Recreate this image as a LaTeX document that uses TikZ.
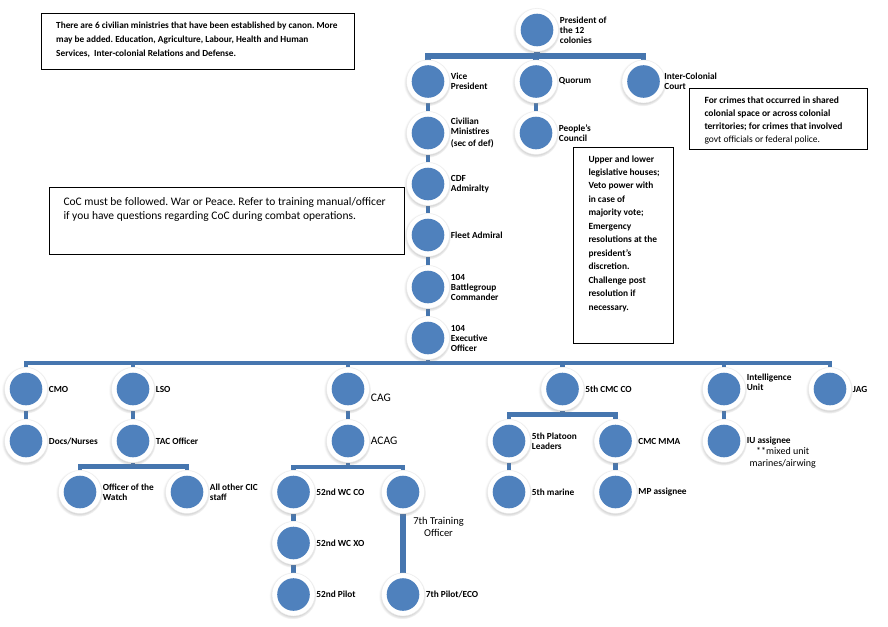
\documentclass[tikz,border=0pt]{standalone}
\usepackage{fontspec}
\setmainfont{Carlito}
\frenchspacing
\usetikzlibrary{shadows,backgrounds}
\definecolor{orgblue}{RGB}{79,129,189}
\definecolor{barblue}{RGB}{70,118,175}

\begin{document}
\begin{tikzpicture}[x=1pt,y=-1pt,
  ring/.style={circle, fill=white, minimum size=43pt, inner sep=0pt, draw=black!8, line width=0.4pt,
    circular drop shadow={shadow xshift=-0.6pt, shadow yshift=-1pt, shadow scale=1.1, opacity=0.35},
    path picture={\fill[orgblue] (path picture bounding box.center) circle[radius=16.3pt];}},
  lbl/.style={anchor=west, inner sep=0pt, xshift=1pt, align=left,
    font=\fontsize{9.3}{10}\selectfont\bfseries},
  plainlbl/.style={inner sep=0pt, align=center, font=\fontsize{10.5}{11.7}\selectfont},
  bar/.style={draw=barblue, line width=4.5pt},
  topbar/.style={draw=barblue, line width=5.5pt},
  noteframe/.style={draw=black, line width=0.9pt, anchor=north west, inner sep=0pt, fill=white},
  notetext/.style={anchor=north west, inner sep=0pt, align=left},
]
\path[use as bounding box] (0,0) rectangle (888,626);

% --- government ---
\node[ring] (pres)    at (537,30) {};
\node[ring] (vp)      at (428,81.5) {};
\node[ring] (quorum)  at (536,81.5) {};
\node[ring] (court)   at (643.5,81.5) {};
\node[ring] (civ)     at (428,133) {};
\node[ring] (council) at (536,133) {};
% --- military chain ---
\node[ring] (cdf)   at (428,184) {};
\node[ring] (fleet) at (428,235) {};
\node[ring] (bgc)   at (428,287) {};
\node[ring] (xo)    at (428,338) {};
% --- departments ---
\node[ring] (cmo)  at (26,389) {};
\node[ring] (lso)  at (133,389) {};
\node[ring] (cag)  at (348,389) {};
\node[ring] (cmc)  at (562.5,389) {};
\node[ring] (iu)   at (724,389) {};
\node[ring] (jag)  at (830,389) {};
\node[ring] (docs) at (26,441) {};
\node[ring] (tac)  at (133,441) {};
\node[ring] (acag) at (348,441) {};
\node[ring] (plat) at (509,441) {};
\node[ring] (mma)  at (615.5,441) {};
\node[ring] (iua)  at (724,441) {};
\node[ring] (ootw)   at (80,492) {};
\node[ring] (cic)    at (187,492) {};
\node[ring] (wcco)   at (293.5,492) {};
\node[ring] (train)  at (403,492) {};
\node[ring] (marine) at (509,492) {};
\node[ring] (mp)     at (615.5,492) {};
\node[ring] (wcxo)   at (293.5,543) {};
\node[ring] (pilot)  at (293.5,594.5) {};
\node[ring] (eco)    at (403,594.5) {};

% bus rails
\coordinate (topbus)  at (537,56);
\coordinate (mainbus) at (428,363);
\coordinate (tacbus)  at (133,466.5);
\coordinate (acagbus) at (348,467);
\coordinate (cmcbus)  at (562.5,414.5);

\begin{pgfonlayer}{background}
  \fill[white] (0,0) rectangle (888,626);
  \draw[topbar] (vp) -- (vp |- topbus) -| (court);
  \draw[topbar] (pres) -- (topbus);
  \draw[topbar] (quorum) -- (quorum |- topbus);
  \draw[bar] (quorum) -- (council);
  \draw[bar] (vp) -- (civ) -- (cdf) -- (fleet) -- (bgc) -- (xo) -- (mainbus);
  \draw[bar] (cmo) -- (cmo |- mainbus) -| (jag);
  \draw[bar] (lso) -- (lso |- mainbus);
  \draw[bar] (cag) -- (cag |- mainbus);
  \draw[bar] (cmc) -- (cmc |- mainbus);
  \draw[bar] (iu) -- (iu |- mainbus);
  \draw[bar] (cmo) -- (docs);
  \draw[bar] (lso) -- (tac) -- (tacbus);
  \draw[bar] (ootw) -- (ootw |- tacbus) -| (cic);
  \draw[bar] (cag) -- (acag) -- (acagbus);
  \draw[bar] (wcco) -- (wcco |- acagbus) -| (train);
  \draw[bar] (wcco) -- (wcxo) -- (pilot);
  \draw[draw=barblue, line width=6pt] (train) -- (eco);
  \draw[bar] (cmc) -- (cmcbus);
  \draw[bar] (plat) -- (plat |- cmcbus) -| (mma);
  \draw[bar] (plat) -- (marine);
  \draw[bar] (mma) -- (mp);
  \draw[bar] (iu) -- (iua);
\end{pgfonlayer}

% labels
\node[lbl] (presL)    at (pres.east) {President of\\the 12\\colonies};
\node[lbl] (vpL)      at (vp.east) {Vice\\President};
\node[lbl] (quorumL)  at (quorum.east) {Quorum};
\node[lbl, xshift=-2pt] (courtL) at (court.east) {Inter-Colonial\\Court};
\node[lbl] (civL)     at (civ.east) {Civilian\\Ministires\\[2pt](sec of def)};
\node[lbl] (councilL) at (council.east) {People's\\Council};
\node[lbl] (cdfL)     at (cdf.east) {CDF\\Admiralty};
\node[lbl] (fleetL)   at (fleet.east) {Fleet Admiral};
\node[lbl] (bgcL)     at (bgc.east) {104\\Battlegroup\\Commander};
\node[lbl] (xoL)      at (xo.east) {104\\Executive\\Officer};
\node[lbl] (cmoL)     at (cmo.east) {CMO};
\node[lbl] (lsoL)     at (lso.east) {LSO};
\node[lbl, font=\fontsize{11.5}{13}\selectfont, yshift=-9pt] (cagL) at (cag.east) {CAG};
\node[lbl, font=\fontsize{11.5}{13}\selectfont] (acagL) at (acag.east) {ACAG};
\node[lbl] (cmcL)     at (cmc.east) {5th CMC CO};
\node[lbl, yshift=7pt] (iuL) at (iu.east) {Intelligence\\Unit};
\node[lbl] (jagL)     at (jag.east) {JAG};
\node[lbl] (docsL)    at (docs.east) {Docs/Nurses};
\node[lbl] (tacL)     at (tac.east) {TAC Officer};
\node[lbl] (platL)    at (plat.east) {5th Platoon\\Leaders};
\node[lbl] (mmaL)     at (mma.east) {CMC MMA};
\node[lbl] (iuaL)     at (iua.east) {IU assignee};
\node[plainlbl, anchor=west, font=\fontsize{10}{12.3}\selectfont] (iuaNote) at (749.3,457.9) {**mixed unit\\marines/airwing};
\node[lbl] (ootwL)    at (ootw.east) {Officer of the\\Watch};
\node[lbl] (cicL)     at (cic.east) {All other CIC\\staff};
\node[lbl] (wccoL)    at (wcco.east) {52nd WC CO};
\node[plainlbl] (trainL) at (438.5,526.9) {7th Training\\Officer};
\node[lbl] (marineL)  at (marine.east) {5th marine};
\node[lbl] (mpL)      at (mp.east) {MP assignee};
\node[lbl] (wcxoL)    at (wcxo.east) {52nd WC XO};
\node[lbl] (pilotL)   at (pilot.east) {52nd Pilot};
\node[lbl] (ecoL)     at (eco.east) {7th Pilot/ECO};

% notes
\node[noteframe, minimum width=313.6pt, minimum height=56pt] (canonBox) at (40.7,13.3) {};
\node[notetext, font=\fontsize{9.3}{13.7}\selectfont\bfseries] (canonTxt) at (56,22)
  {There are 6 civilian ministries that have been established by canon. More\\
   may be added. Education, Agriculture, Labour, Health and Human\\
   Services,~~Inter-colonial Relations and Defense.};

\node[noteframe, minimum width=178pt, minimum height=61pt] (courtBox) at (689.3,88.3) {};
\node[notetext, font=\fontsize{9.5}{12.8}\selectfont\bfseries] (courtTxt) at (704.3,96.9)
  {For crimes that occurred in shared\\
   colonial space or across colonial\\
   territories; for crimes that involved\\
   {\mdseries govt officials or federal police.}};

\node[noteframe, minimum width=100pt, minimum height=196.6pt] (councilBox) at (573.3,146.7) {};
\node[notetext, font=\fontsize{9.4}{13.45}\selectfont\bfseries] (councilTxt) at (588.3,155.3)
  {Upper and lower\\legislative houses;\\Veto power with\\in case of\\majority vote;\\Emergency\\
   resolutions at the\\president’s\\discretion.\\Challenge post\\resolution if\\necessary.};

\node[noteframe, minimum width=354.7pt, minimum height=66.7pt] (cocBox) at (49.3,187.3) {};
\node[notetext, font=\fontsize{11.5}{13.4}\selectfont] (cocTxt) at (63.3,197.5)
  {CoC must be followed. War or Peace. Refer to training manual/officer\\
   if you have questions regarding CoC during combat operations.};
\end{tikzpicture}
\end{document}
